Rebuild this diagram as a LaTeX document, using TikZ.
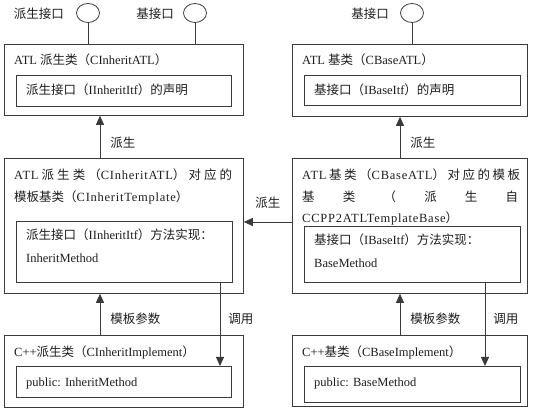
\documentclass[tikz,border=0pt]{standalone}
\usepackage{fontspec}
\setmainfont{Liberation Serif}
\newfontfamily\cjk{Noto Sans CJK SC}
\newfontfamily\latw[LetterSpace=6]{Liberation Serif}
\usetikzlibrary{positioning,shapes.geometric,arrows.meta}
\usepackage{xcolor}
\definecolor{linea}{HTML}{3A3A3A}
\definecolor{texto}{HTML}{1E1E1E}

\tikzset{
  caja/.style={draw=linea,line width=0.8pt,anchor=north west,inner sep=0pt},
  txt/.style={text=texto,anchor=base west,inner sep=0pt,align=left,font=\fontsize{12.5}{22}\selectfont},
  etq/.style={text=texto,inner sep=0pt,font=\fontsize{12.5}{15}\selectfont\cjk},
  flecha/.style={draw=linea,line width=0.8pt,-{Triangle[width=8pt,length=9pt]}},
  interfaz/.style={draw=linea,line width=0.8pt,ellipse,minimum width=23pt,minimum height=19pt,inner sep=0pt},
}

\begin{document}
\begin{tikzpicture}[x=1pt,y=-1pt]
      \useasboundingbox (0,0) rectangle (536,411);
      % cajas de arriba
      \node[caja,minimum width=239pt,minimum height=71pt] (atlinh) at (4,44) {};
      \node[caja,minimum width=215pt,minimum height=31pt] (atlinhdecl) at (16,75) {};
      \node[caja,minimum width=235pt,minimum height=72pt] (atlbase) at (292,44) {};
      \node[caja,minimum width=216pt,minimum height=30pt] (atlbasedecl) at (304,75) {};
      % cajas del medio
      \node[caja,minimum width=239pt,minimum height=135pt] (tplinh) at (4,158) {};
      \node[caja,minimum width=216pt,minimum height=61pt] (tplinhimpl) at (16,221) {};
      \node[caja,minimum width=235pt,minimum height=135pt] (tplbase) at (292,158) {};
      \node[caja,minimum width=216pt,minimum height=56pt] (tplbaseimpl) at (304,226) {};
      % cajas de abajo
      \node[caja,minimum width=239pt,minimum height=72pt] (cppinh) at (4,335) {};
      \node[caja,minimum width=215pt,minimum height=31pt] (cppinhpub) at (16,366) {};
      \node[caja,minimum width=235pt,minimum height=71pt] (cppbase) at (292,335) {};
      \node[caja,minimum width=216pt,minimum height=36pt] (cppbasepub) at (304,366) {};

      % textos (en los de varias lineas, la base es la de la ultima)
      \node[txt] (t1) at (14,65) {ATL {\cjk 派生类（}CInheritATL{\cjk ）}};
      \node[txt] (t2) at (26,95) {{\cjk 派生接口（}IInheritItf{\cjk ）的声明}};
      \node[txt] (t3) at (302,65) {ATL {\cjk 基类（}CBaseATL{\cjk ）}};
      \node[txt] (t4) at (314,95) {{\cjk 基接口（}IBaseItf{\cjk ）的声明}};
      \node[txt,font=\fontsize{12.5}{22}\latw] (t5) at (14,202) {\hbox to 218pt{ATL\hfil{\cjk 派}\hfil{\cjk 生}\hfil{\cjk 类}\hfil{\cjk （}CInheritATL{\cjk ）}\hfil{\cjk 对}\hfil{\cjk 应}\hfil{\cjk 的}}\\{\cjk 模板基类（}CInheritTemplate{\cjk ）}};
      \node[txt,font=\fontsize{12.5}{23}\selectfont] (t6) at (26,263) {{\cjk 派生接口（}IInheritItf{\cjk ）方法实现：}\\InheritMethod};
      \node[txt,font=\fontsize{12.5}{21.5}\latw] (t7) at (302,223) {\hbox to 218pt{ATL\hfil{\cjk 基}\hfil{\cjk 类}\hfil{\cjk （}CBaseATL{\cjk ）}\hfil{\cjk 对}\hfil{\cjk 应}\hfil{\cjk 的}\hfil{\cjk 模}\hfil{\cjk 板}}\\\hbox to 216pt{\cjk 基\hfill 类\hfill （\hfill 派\hfill 生\hfill 自}\\CCPP2ATLTemplateBase{\cjk ）}};
      \node[txt,font=\fontsize{12.5}{23}\selectfont] (t8) at (314,268) {{\cjk 基接口（}IBaseItf{\cjk ）方法实现：}\\BaseMethod};
      \node[txt] (t9) at (14,357) {C++{\cjk 派生类（}CInheritImplement{\cjk ）}};
      \node[txt] (t10) at (26,387) {public: InheritMethod};
      \node[txt] (t11) at (302,357) {C++{\cjk 基类（}CBaseImplement{\cjk ）}};
      \node[txt] (t12) at (314,387) {public: BaseMethod};

      % interfaces
      \node[interfaz] (ifinh) at (88,13) {};
      \node[interfaz] (ifbase) at (195,13) {};
      \node[interfaz] (ifbase2) at (412,13) {};
      \node[etq,left=12pt of ifinh,yshift=-1pt] (lifinh) {派生接口};
      \node[etq,left=9pt of ifbase,yshift=-1pt] (lifbase) {基接口};
      \node[etq,left=11pt of ifbase2,yshift=-1pt] (lifbase2) {基接口};
      \draw[linea,line width=0.8pt] (ifinh.south) -- (ifinh.south |- atlinh.north);
      \draw[linea,line width=0.8pt] (ifbase.south) -- (ifbase.south |- atlinh.north);
      \draw[linea,line width=0.8pt] (ifbase2.south) -- (ifbase2.south |- atlbase.north);

      % flechas
      \coordinate (xl) at (100,0);
      \coordinate (xr) at (400,0);
      \coordinate (yh) at (0,222);
      \coordinate (cl) at (220,0);
      \coordinate (cr) at (485,0);
      \draw[flecha] (xl |- tplinh.north) -- node[etq,anchor=west,pos=0.37,xshift=10pt] (d1) {派生} (xl |- atlinh.south);
      \draw[flecha] (xr |- tplbase.north) -- node[etq,anchor=west,pos=0.37,xshift=10pt] (d2) {派生} (xr |- atlbase.south);
      \draw[flecha] (tplbase.west |- yh) -- node[etq,above=13pt] (d3) {派生} (tplinh.east |- yh);
      \draw[flecha] (xl |- cppinh.north) -- node[etq,anchor=west,pos=0.4,xshift=10pt] (m1) {模板参数} (xl |- tplinh.south);
      \draw[flecha] (xr |- cppbase.north) -- node[etq,anchor=west,pos=0.4,xshift=10pt] (m2) {模板参数} (xr |- tplbase.south);
      \draw[flecha] (cl |- tplinhimpl.south) -- node[etq,anchor=west,pos=0.43,xshift=8pt] (u1) {调用} (cl |- cppinhpub.north);
      \draw[flecha] (cr |- tplbaseimpl.south) -- node[etq,anchor=west,pos=0.43,xshift=8pt] (u2) {调用} (cr |- cppbasepub.north);
    \end{tikzpicture}
\end{document}
